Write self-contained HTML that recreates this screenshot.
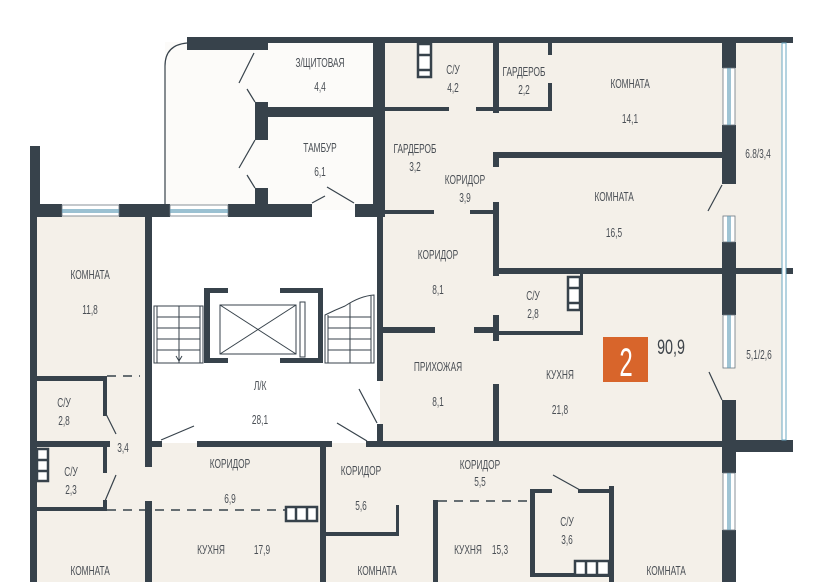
<!DOCTYPE html>
<html><head><meta charset="utf-8"><style>
html,body{margin:0;padding:0;background:#fff;}
svg{display:block;}
text{font-family:"Liberation Sans",sans-serif;fill:#4a4f55;font-size:13px;text-anchor:middle;transform-box:fill-box;transform-origin:center;transform:scaleX(0.64);}
</style></head><body>
<svg width="820" height="582" viewBox="0 0 820 582" xmlns="http://www.w3.org/2000/svg">
<rect width="820" height="582" fill="#fff"/>
<g fill="#f4f0e9">
<rect x="30" y="215" width="705" height="367"/>
<rect x="385" y="40" width="400" height="408"/>
</g>
<rect x="150" y="215" width="230" height="228" fill="#fff"/>
<rect x="165" y="42" width="210" height="168" fill="#fcfbf9"/>
<rect x="735" y="448" width="85" height="134" fill="#fff"/>
<g fill="#37424b">
<rect x="187" y="37" width="81" height="13"/>
<rect x="268" y="37" width="525" height="6"/>
<rect x="373" y="37" width="12" height="180"/>
<rect x="255" y="102" width="13" height="38"/>
<rect x="255" y="107" width="118" height="10"/>
<rect x="255" y="188" width="13" height="20"/>
<rect x="255" y="43" width="13" height="7"/>
<rect x="30" y="204" width="32" height="13"/>
<rect x="119" y="204" width="51" height="13"/>
<rect x="228" y="204" width="84" height="13"/>
<rect x="355" y="204" width="30" height="13"/>
<rect x="30" y="146" width="10" height="58"/>
<rect x="30" y="204" width="7" height="378"/>
<rect x="145" y="217" width="7" height="250"/>
<rect x="145" y="501" width="7" height="81"/>
<rect x="377" y="215" width="6" height="166"/>
<rect x="377" y="424" width="6" height="20"/>
<rect x="145" y="441" width="17" height="6"/>
<rect x="197" y="441" width="135" height="6"/>
<rect x="320" y="441" width="6" height="141"/>
<rect x="366" y="441" width="427" height="6"/>
<rect x="30" y="376" width="75" height="5"/>
<rect x="103" y="376" width="4" height="40"/>
<rect x="30" y="441" width="80" height="6"/>
<rect x="103" y="447" width="4" height="26"/>
<rect x="36" y="507" width="69" height="4"/>
<rect x="103" y="500" width="4" height="11"/>
<rect x="326" y="532" width="73" height="4"/>
<rect x="396" y="505" width="3" height="31"/>
<rect x="433" y="500" width="5" height="82"/>
<rect x="530" y="489" width="5" height="88"/>
<rect x="530" y="489" width="22" height="4"/>
<rect x="578" y="489" width="33" height="4"/>
<rect x="609" y="486" width="5" height="96"/>
<rect x="530" y="573" width="84" height="4"/>
<rect x="385" y="107" width="64" height="4"/>
<rect x="476" y="107" width="75" height="4"/>
<rect x="493" y="43" width="6" height="70"/>
<rect x="548" y="43" width="4" height="12"/>
<rect x="548" y="83" width="4" height="28"/>
<rect x="493" y="152" width="229" height="6"/>
<rect x="493" y="152" width="6" height="15"/>
<rect x="385" y="210" width="49" height="4"/>
<rect x="470" y="210" width="28" height="4"/>
<rect x="493" y="202" width="6" height="74"/>
<rect x="493" y="268" width="300" height="6"/>
<rect x="580" y="274" width="3" height="61"/>
<rect x="493" y="331" width="90" height="4"/>
<rect x="493" y="315" width="6" height="26"/>
<rect x="474" y="327" width="22" height="6"/>
<rect x="383" y="327" width="52" height="6"/>
<rect x="493" y="384" width="6" height="60"/>
<rect x="722" y="43" width="14" height="25"/>
<rect x="722" y="125" width="14" height="59"/>
<rect x="722" y="242" width="14" height="73"/>
<rect x="722" y="400" width="14" height="73"/>
<rect x="722" y="530" width="14" height="52"/>
<rect x="722" y="440" width="71" height="12"/>
<rect x="204" y="288" width="6" height="75"/>
<rect x="204" y="288" width="24" height="5"/>
<rect x="280" y="288" width="43" height="5"/>
<rect x="318" y="288" width="5" height="75"/>
<rect x="204" y="358" width="24" height="5"/>
<rect x="280" y="358" width="43" height="5"/>
</g>
<g fill="#fff" stroke="#6b7780" stroke-width="0.8">
<rect x="62" y="205" width="57" height="11"/>
<rect x="170" y="205" width="58" height="11"/>
<rect x="723" y="68" width="12" height="57"/>
<rect x="723" y="216" width="12" height="26"/>
<rect x="723" y="315" width="12" height="53"/>
<rect x="723" y="473" width="12" height="57"/>
</g>
<g stroke="#5f9cb8" stroke-width="1.2">
<line x1="62" y1="210" x2="119" y2="210"/><line x1="62" y1="212" x2="119" y2="212"/>
<line x1="170" y1="210" x2="228" y2="210"/><line x1="170" y1="212" x2="228" y2="212"/>
<line x1="728" y1="68" x2="728" y2="125"/><line x1="730" y1="68" x2="730" y2="125"/>
<line x1="728" y1="216" x2="728" y2="242"/><line x1="730" y1="216" x2="730" y2="242"/>
<line x1="728" y1="315" x2="728" y2="368"/><line x1="730" y1="315" x2="730" y2="368"/>
<line x1="728" y1="473" x2="728" y2="530"/><line x1="730" y1="473" x2="730" y2="530"/>
</g>
<rect x="782" y="43" width="4" height="397" fill="#fff" stroke="#6aa7c2" stroke-width="1"/>
<g stroke="#37424b" stroke-width="1.2" fill="none">
<path d="M187 43 Q165 45 165 66 L165 204"/>
<line x1="254" y1="53" x2="239" y2="83"/><line x1="247" y1="89" x2="255" y2="102"/>
<line x1="255" y1="140" x2="239" y2="168"/><line x1="247" y1="175" x2="255" y2="188"/>
<line x1="312" y1="203" x2="325" y2="196"/><line x1="327" y1="187" x2="354" y2="203"/>
<line x1="161" y1="440" x2="194" y2="426"/>
<line x1="337" y1="423" x2="367" y2="441"/><line x1="359" y1="389" x2="377" y2="423"/>
<line x1="722" y1="185" x2="708" y2="211"/>
<line x1="709" y1="372" x2="722" y2="400"/>
<line x1="106" y1="414" x2="116" y2="434"/>
<line x1="116" y1="475" x2="105" y2="501"/>
<line x1="553" y1="475" x2="580" y2="490"/>
</g>
<g stroke="#37424b" stroke-width="1.5" stroke-dasharray="9,7" fill="none">
<line x1="107" y1="376" x2="140" y2="376"/>
<line x1="107" y1="510" x2="285" y2="510"/>
<line x1="438" y1="501" x2="530" y2="501"/>
</g>
<g fill="#fff" stroke="#37424b" stroke-width="2.5">
<rect x="286" y="507" width="31" height="14"/>
<rect x="575" y="561" width="34" height="14"/>
<rect x="37" y="449" width="11" height="32"/>
<rect x="418" y="44" width="13" height="33"/>
<rect x="568" y="277" width="12" height="33"/>
</g>
<g stroke="#37424b" stroke-width="2.5">
<line x1="296" y1="507" x2="296" y2="521"/><line x1="307" y1="507" x2="307" y2="521"/>
<line x1="586" y1="561" x2="586" y2="575"/><line x1="597" y1="561" x2="597" y2="575"/>
<line x1="37" y1="460" x2="48" y2="460"/><line x1="37" y1="471" x2="48" y2="471"/>
<line x1="418" y1="55" x2="431" y2="55"/><line x1="418" y1="70" x2="431" y2="70"/>
<line x1="568" y1="288" x2="580" y2="288"/><line x1="568" y1="303" x2="580" y2="303"/>
</g>
<g stroke="#37424b" stroke-width="1" fill="none">
<rect x="220" y="305" width="76" height="49"/>
<line x1="220" y1="305" x2="296" y2="354"/><line x1="296" y1="305" x2="220" y2="354"/>
<rect x="300" y="302" width="5" height="55"/>
<rect x="154" y="306" width="49" height="57"/>
<line x1="157" y1="306" x2="157" y2="363"/><line x1="200" y1="306" x2="200" y2="363"/>
<line x1="179" y1="306" x2="179" y2="363"/>
<line x1="157" y1="317" x2="200" y2="317"/><line x1="157" y1="328" x2="200" y2="328"/>
<line x1="157" y1="339" x2="200" y2="339"/><line x1="157" y1="350" x2="200" y2="350"/>
<path d="M176 356 L179 361 L182 356"/>
<path d="M325 363 L325 315 Q335 310 345 306 Q360 296 374 295 L374 363 Z"/>
<line x1="328" y1="315" x2="328" y2="363"/><line x1="371" y1="296" x2="371" y2="363"/>
<line x1="350" y1="303" x2="350" y2="363"/>
<line x1="328" y1="317" x2="371" y2="317"/><line x1="328" y1="328" x2="371" y2="328"/>
<line x1="328" y1="339" x2="371" y2="339"/><line x1="328" y1="350" x2="371" y2="350"/>
</g>
<rect x="603" y="337" width="45" height="45" fill="#d8652b"/>
<text x="626" y="376" style="font-size:40px;fill:#fff;transform:scaleX(0.6);">2</text>
<text x="671" y="354" style="font-size:21px;fill:#3f454b;transform:scaleX(0.68);">90,9</text>
<text x="320" y="67">З/ЩИТОВАЯ</text><text x="320" y="91">4,4</text>
<text x="320" y="152">ТАМБУР</text><text x="320" y="176">6,1</text>
<text x="453" y="74">С/У</text><text x="453" y="92">4,2</text>
<text x="524" y="76">ГАРДЕРОБ</text><text x="524" y="94">2,2</text>
<text x="630" y="88">КОМНАТА</text><text x="630" y="123">14,1</text>
<text x="415" y="153">ГАРДЕРОБ</text><text x="415" y="171">3,2</text>
<text x="465" y="184">КОРИДОР</text><text x="465" y="202">3,9</text>
<text x="614" y="201">КОМНАТА</text><text x="614" y="237">16,5</text>
<text x="758" y="158">6.8/3,4</text>
<text x="90" y="279">КОМНАТА</text><text x="90" y="314">11,8</text>
<text x="438" y="259">КОРИДОР</text><text x="438" y="294">8,1</text>
<text x="533" y="300">С/У</text><text x="533" y="318">2,8</text>
<text x="438" y="371">ПРИХОЖАЯ</text><text x="438" y="406">8,1</text>
<text x="560" y="379">КУХНЯ</text><text x="560" y="414">21,8</text>
<text x="759" y="359">5,1/2,6</text>
<text x="260" y="390">Л/К</text><text x="260" y="424">28,1</text>
<text x="64" y="407">С/У</text><text x="64" y="425">2,8</text>
<text x="123" y="452">3,4</text>
<text x="71" y="476">С/У</text><text x="71" y="494">2,3</text>
<text x="230" y="468">КОРИДОР</text><text x="230" y="503">6,9</text>
<text x="361" y="475">КОРИДОР</text><text x="361" y="510">5,6</text>
<text x="480" y="469">КОРИДОР</text><text x="480" y="486">5,5</text>
<text x="567" y="526">С/У</text><text x="567" y="544">3,6</text>
<text x="211" y="554">КУХНЯ</text><text x="262" y="554">17,9</text>
<text x="468" y="554">КУХНЯ</text><text x="500" y="554">15,3</text>
<text x="90" y="575">КОМНАТА</text><text x="377" y="575">КОМНАТА</text><text x="666" y="575">КОМНАТА</text>
</svg>
</body></html>
